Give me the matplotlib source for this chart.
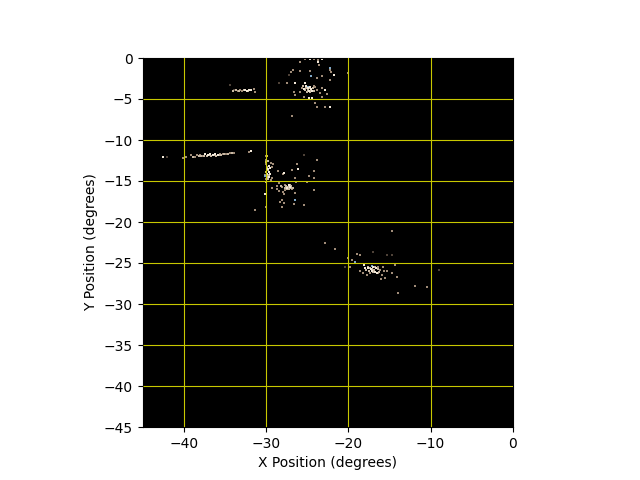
import matplotlib
matplotlib.use('Agg')
import matplotlib.pyplot as plt

# star positions, in degrees, grouped by how they look
BRIGHT_X = [-24.72, -23.22, -21.80, -25.24, -24.96, -24.56, -25.44, -24.84, -24.43, -25.12,
            -24.72, -26.46, -22.80, -22.29, -24.84, -24.43, -23.70,
            -32.60, -32.35, -32.10, -31.85, -37.40, -37.10, -36.80, -36.50, -36.20, -35.90,
            -42.50, -31.80,
            -29.70, -29.57, -29.70, -29.90, -29.82, -29.70, -29.57, -26.18, -27.87, -27.27,
            -27.47, -27.07, -30.10,
            -17.56, -17.28, -16.95, -16.63, -16.75, -17.97, -16.55, -17.16, -18.09]
BRIGHT_Y = [-0.16, -0.12, -2.07, -3.09, -3.70, -3.78, -3.78, -4.02, -4.02, -3.37,
            -3.49, -3.09, -3.90, -5.93, -4.83, -4.83, -0.44,
            -3.92, -3.98, -3.90, -3.95, -11.72, -11.78, -11.70, -11.80, -11.75, -11.82,
            -12.03, -11.30,
            -13.86, -14.15, -14.47, -14.15, -13.58, -13.20, -13.40, -13.58, -14.07, -15.49,
            -15.89, -15.69, -16.63,
            -25.66, -25.78, -25.53, -25.66, -26.06, -25.66, -26.27, -25.94, -25.25]

TAN_X = [-25.32, -24.23, -23.70, -25.93, -23.62, -24.64, -25.85, -26.74, -26.94, -22.29,
         -22.09, -24.51, -23.22, -23.83, -22.20, -27.47, -24.23, -25.65, -24.03, -25.85,
         -23.83, -23.22, -23.42, -22.61, -26.66, -26.46, -23.22, -25.44, -24.03, -22.80,
         -23.83,
         -33.45, -33.13, -32.90, -31.50, -31.30,
         -40.08, -39.80, -39.10, -38.60, -38.40, -38.00, -37.70, -35.60, -35.30, -34.90,
         -34.40, -33.85, -32.10,
         -29.41, -29.90, -29.29, -29.17, -30.10, -29.29, -29.41, -29.98, -30.00, -30.00,
         -30.05, -27.98, -28.60, -26.86, -26.26, -23.83, -24.84, -24.23, -24.23, -26.46,
         -26.34, -28.48, -28.68, -29.29, -28.08, -27.67, -26.86, -27.67, -28.00, -28.48,
         -28.68, -27.87, -26.46, -28.08, -28.28, -27.87, -28.08, -26.66, -25.45, -24.23,
         -25.04, -29.98, -31.30, -31.80,
         -19.99, -19.58, -18.90, -18.57, -18.17, -16.35, -16.15, -16.35, -17.76, -17.36,
         -15.74, -15.66, -15.34, -15.94, -16.06, -15.54, -14.12, -14.33, -14.73, -11.90,
         -10.40, -13.92, -19.79, -14.70, -22.80, -21.60, -18.60, -26.80, -20.10]
TAN_Y = [-0.16, -0.16, -0.20, -0.52, -0.85, -1.58, -1.54, -1.46, -1.74, -1.46,
         -1.74, -2.15, -2.15, -2.48, -2.68, -3.09, -3.41, -3.61, -3.49, -4.10,
         -3.90, -3.61, -4.30, -4.43, -4.10, -4.51, -4.71, -4.71, -5.52, -6.01,
         -5.93,
         -3.98, -3.90, -4.02, -3.78, -4.10,
         -12.23, -12.03, -11.87, -12.03, -11.83, -11.83, -11.95, -11.70, -11.65, -11.70,
         -11.60, -11.55, -11.50,
         -12.85, -13.25, -13.25, -12.93, -14.31, -14.68, -14.88, -14.80, -12.00, -12.40,
         -12.90, -14.15, -13.74, -13.66, -12.93, -12.44, -14.35, -13.78, -14.68, -14.68,
         -15.08, -15.29, -15.61, -15.89, -15.77, -15.49, -16.02, -16.10, -16.30, -16.18,
         -16.02, -16.63, -16.42, -17.32, -17.52, -17.72, -18.21, -17.81, -17.93, -16.10,
         -15.16, -18.20, -18.54, -11.34,
         -24.35, -24.64, -23.90, -25.94, -26.18, -25.53, -25.86, -26.18, -26.47, -26.27,
         -25.45, -25.94, -25.94, -26.47, -27.00, -26.87, -26.75, -25.25, -26.27, -27.81,
         -27.89, -28.70, -25.53, -21.10, -22.60, -23.30, -24.00, -7.10, -1.80]

# the dense middles of the four clumps and of the two streaks
CORE_X = [-25.05, -24.90, -24.80, -24.65, -25.30, -25.15, -24.55, -24.35, -25.00, -24.70,
          -25.55, -24.20,
          -34.00, -33.70, -33.30, -32.75, -32.25, -31.95,
          -38.90, -38.20, -37.90, -37.55, -37.25, -36.95, -36.65, -36.35, -36.05, -35.75,
          -35.45, -35.10, -34.65, -34.10,
          -27.60, -27.35, -27.15, -26.95, -27.75, -27.50, -27.25, -27.00, -28.20, -26.70,
          -29.85, -29.75, -29.65, -29.95, -29.80, -29.60, -30.00, -29.75,
          -17.65, -17.40, -17.15, -16.85, -16.45, -17.50, -17.05, -16.70, -16.25, -17.80]
CORE_Y = [-3.55, -3.85, -3.60, -3.65, -3.90, -3.60, -3.95, -3.70, -4.20, -4.15,
          -3.40, -4.05,
          -4.00, -3.95, -4.05, -3.90, -4.02, -3.88,
          -12.05, -11.95, -12.00, -11.90, -11.95, -11.85, -11.90, -11.85, -11.90, -11.78,
          -11.80, -11.75, -11.68, -11.60,
          -15.60, -15.75, -15.50, -15.65, -15.85, -16.00, -15.95, -15.85, -15.60, -15.90,
          -13.40, -13.70, -13.95, -14.55, -14.70, -14.30, -15.10, -12.60,
          -25.50, -25.65, -25.75, -25.85, -25.70, -25.95, -26.05, -25.45, -26.05, -25.85]

DIM_X = [-28.48, -27.27, -34.40, -33.94, -42.10, -16.95, -15.34, -14.73, -20.39, -9.00, -25.45]
DIM_Y = [-3.09, -2.07, -3.29, -3.90, -12.10, -23.62, -24.03, -24.03, -25.53, -25.80, -11.83]

BLUE_X = [-24.96, -24.51, -22.29, -26.54, -19.18, -17.16, -30.15]
BLUE_Y = [-3.50, -2.15, -1.20, -17.32, -24.84, -25.37, -14.40]

YELLOW_X = [-29.95, -30.00, -29.90, -29.85, -30.05]
YELLOW_Y = [-13.60, -13.95, -14.25, -11.90, -12.70]

X_TICKS = [-40, -30, -20, -10, 0]
Y_TICKS = [0, -5, -10, -15, -20, -25, -30, -35, -40, -45]

fig = plt.figure(figsize=(6.4, 4.8), dpi=100)
ax = fig.add_axes([142.8 / 640, 53 / 480, 370 / 640, 369 / 480])
ax.set_facecolor('black')

ax.scatter(DIM_X, DIM_Y, s=1, marker='s', linewidths=0, color='#4e4238')
ax.scatter(TAN_X, TAN_Y, s=1, marker='s', linewidths=0, color='#a08c78')
ax.scatter(CORE_X, CORE_Y, s=1, marker='s', linewidths=0, color='#c8b8a4')
ax.scatter(BLUE_X, BLUE_Y, s=1.5, marker='s', linewidths=0, color='#7fa8c8')
ax.scatter(YELLOW_X, YELLOW_Y, s=1.5, marker='s', linewidths=0, color='#d8c850')
ax.scatter(BRIGHT_X, BRIGHT_Y, s=1.5, marker='s', linewidths=0, color='#f2e8d8')

ax.set_xlim(-45, 0)
ax.set_ylim(-45, 0)
ax.set_xticks(X_TICKS)
ax.set_yticks(Y_TICKS)
ax.grid(True, color='#c8c800', linewidth=0.8)
ax.set_axisbelow(False)
# no grid line on the frame itself
ax.get_xgridlines()[-1].set_visible(False)
ax.get_ygridlines()[0].set_visible(False)
ax.get_ygridlines()[-1].set_visible(False)
ax.set_xlabel('X Position (degrees)')
ax.set_ylabel('Y Position (degrees)')

plt.savefig('out.png', dpi=100)
plt.close()
